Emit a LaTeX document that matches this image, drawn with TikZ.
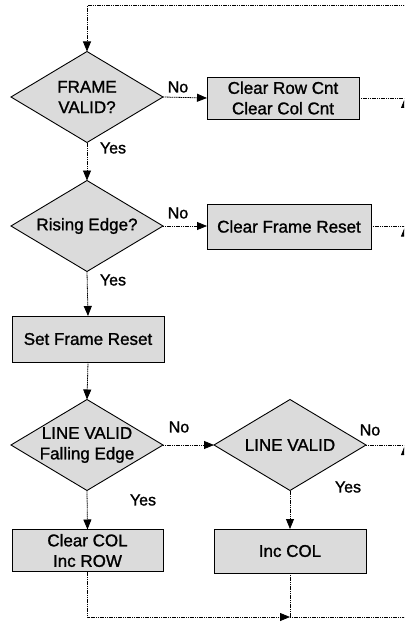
\documentclass[tikz,border=0pt]{standalone}
\usepackage{fontspec}
\setmainfont[FakeBold=1.2,AutoFakeBold=1.2]{Liberation Sans}
\usetikzlibrary{shapes.geometric,arrows.meta}
\begin{document}
\begin{tikzpicture}[x=1pt,y=-1pt,
  every node/.style={inner sep=0pt, outer sep=0pt},
  txt/.style={font=\fontsize{17}{20.5}\selectfont\bfseries, align=center},
  lbl/.style={font=\fontsize{16}{19}\selectfont\bfseries},
  procbox/.style={draw=black, line width=0.9pt, fill=black!14, rectangle},
  decision/.style={draw=black, line width=0.9pt, fill=black!14, diamond,
    minimum width=152pt, minimum height=91pt},
  flow/.style={line width=0.8pt, dash pattern=on 1.2pt off 0.6pt},
  tip/.style={-{Triangle[width=8pt,length=10pt]}}
]
\useasboundingbox (0,0) rectangle (404,623);
\clip (0,0) rectangle (404,623);

% decisions
\node[decision] (d1) at (87,97) {};
\node[txt] (d1t) at (d1) {FRAME\\VALID?};
\node[decision] (d2) at (87,226) {};
\node[txt] (d2t) at (d2) {Rising Edge?};
\node[decision] (d3) at (87,445) {};
\node[txt] (d3t) at (d3) {LINE VALID\\Falling Edge};
\node[decision] (d4) at (290,445) {};
\node[txt] (d4t) at (d4) {LINE VALID};

% process boxes
\node[procbox, txt, minimum width=152pt, minimum height=42pt] (b1) at (283,98) {Clear Row Cnt\\Clear Col Cnt};
\node[procbox, txt, minimum width=164pt, minimum height=45pt] (b2) at (289,226.5) {Clear Frame Reset};
\node[procbox, txt, minimum width=152pt, minimum height=46pt] (b3) at (88,339) {Set Frame Reset};
\node[procbox, txt, minimum width=151pt, minimum height=42pt] (b4) at (87.5,550.5) {Clear COL\\Inc ROW};
\node[procbox, txt, minimum width=152pt, minimum height=44pt] (b5) at (290,551) {Inc COL};

% return path along the right side
\coordinate (r1) at (405,98);
\coordinate (r2) at (405,226.5);
\coordinate (r3) at (405,445);
\coordinate (rb) at (405,617);
\coordinate (rt) at (405,5.7);
\coordinate (jn) at (290,617);

% connectors
\draw[flow,tip] (d1.east) -- (b1.west);
\draw[flow,tip] (d1.south) -- (d2.north);
\draw[flow,tip] (d2.east) -- (d2.east -| b2.west);
\draw[flow,tip] (d2.south) -- (b3.north);
\draw[flow,tip] (b3.south) -- (d3.north);
\draw[flow,tip] (d3.east) -- (d4.west);
\draw[flow,tip] (d3.south) -- (b4.north);
\draw[flow,tip] (d4.south) -- (b5.north);
\draw[flow,tip] (b4.south) |- (jn);
\draw[flow] (b5.south) -- (jn);
\draw[flow] (jn) -- (rb);
\draw[flow] (b1.east) -- (r1);
\draw[flow] (b2.east |- r2) -- (r2);
\draw[flow] (d4.east) -- (r3);
\draw[flow,tip] (rb) -- (r3);
\draw[flow,tip] (r3) -- (r2);
\draw[flow,tip] (r2) -- (r1);
\draw[flow,tip] (r1) -- (rt) -| (d1.north);

% branch labels
\node[lbl] (n1) at (178,87) {No};
\node[lbl] (y1) at (113,148) {Yes};
\node[lbl] (n2) at (178,213) {No};
\node[lbl] (y2) at (113,280) {Yes};
\node[lbl] (n3) at (179,427) {No};
\node[lbl] (y3) at (143,500) {Yes};
\node[lbl] (n4) at (370,430) {No};
\node[lbl] (y4) at (348,487) {Yes};
\end{tikzpicture}
\end{document}
